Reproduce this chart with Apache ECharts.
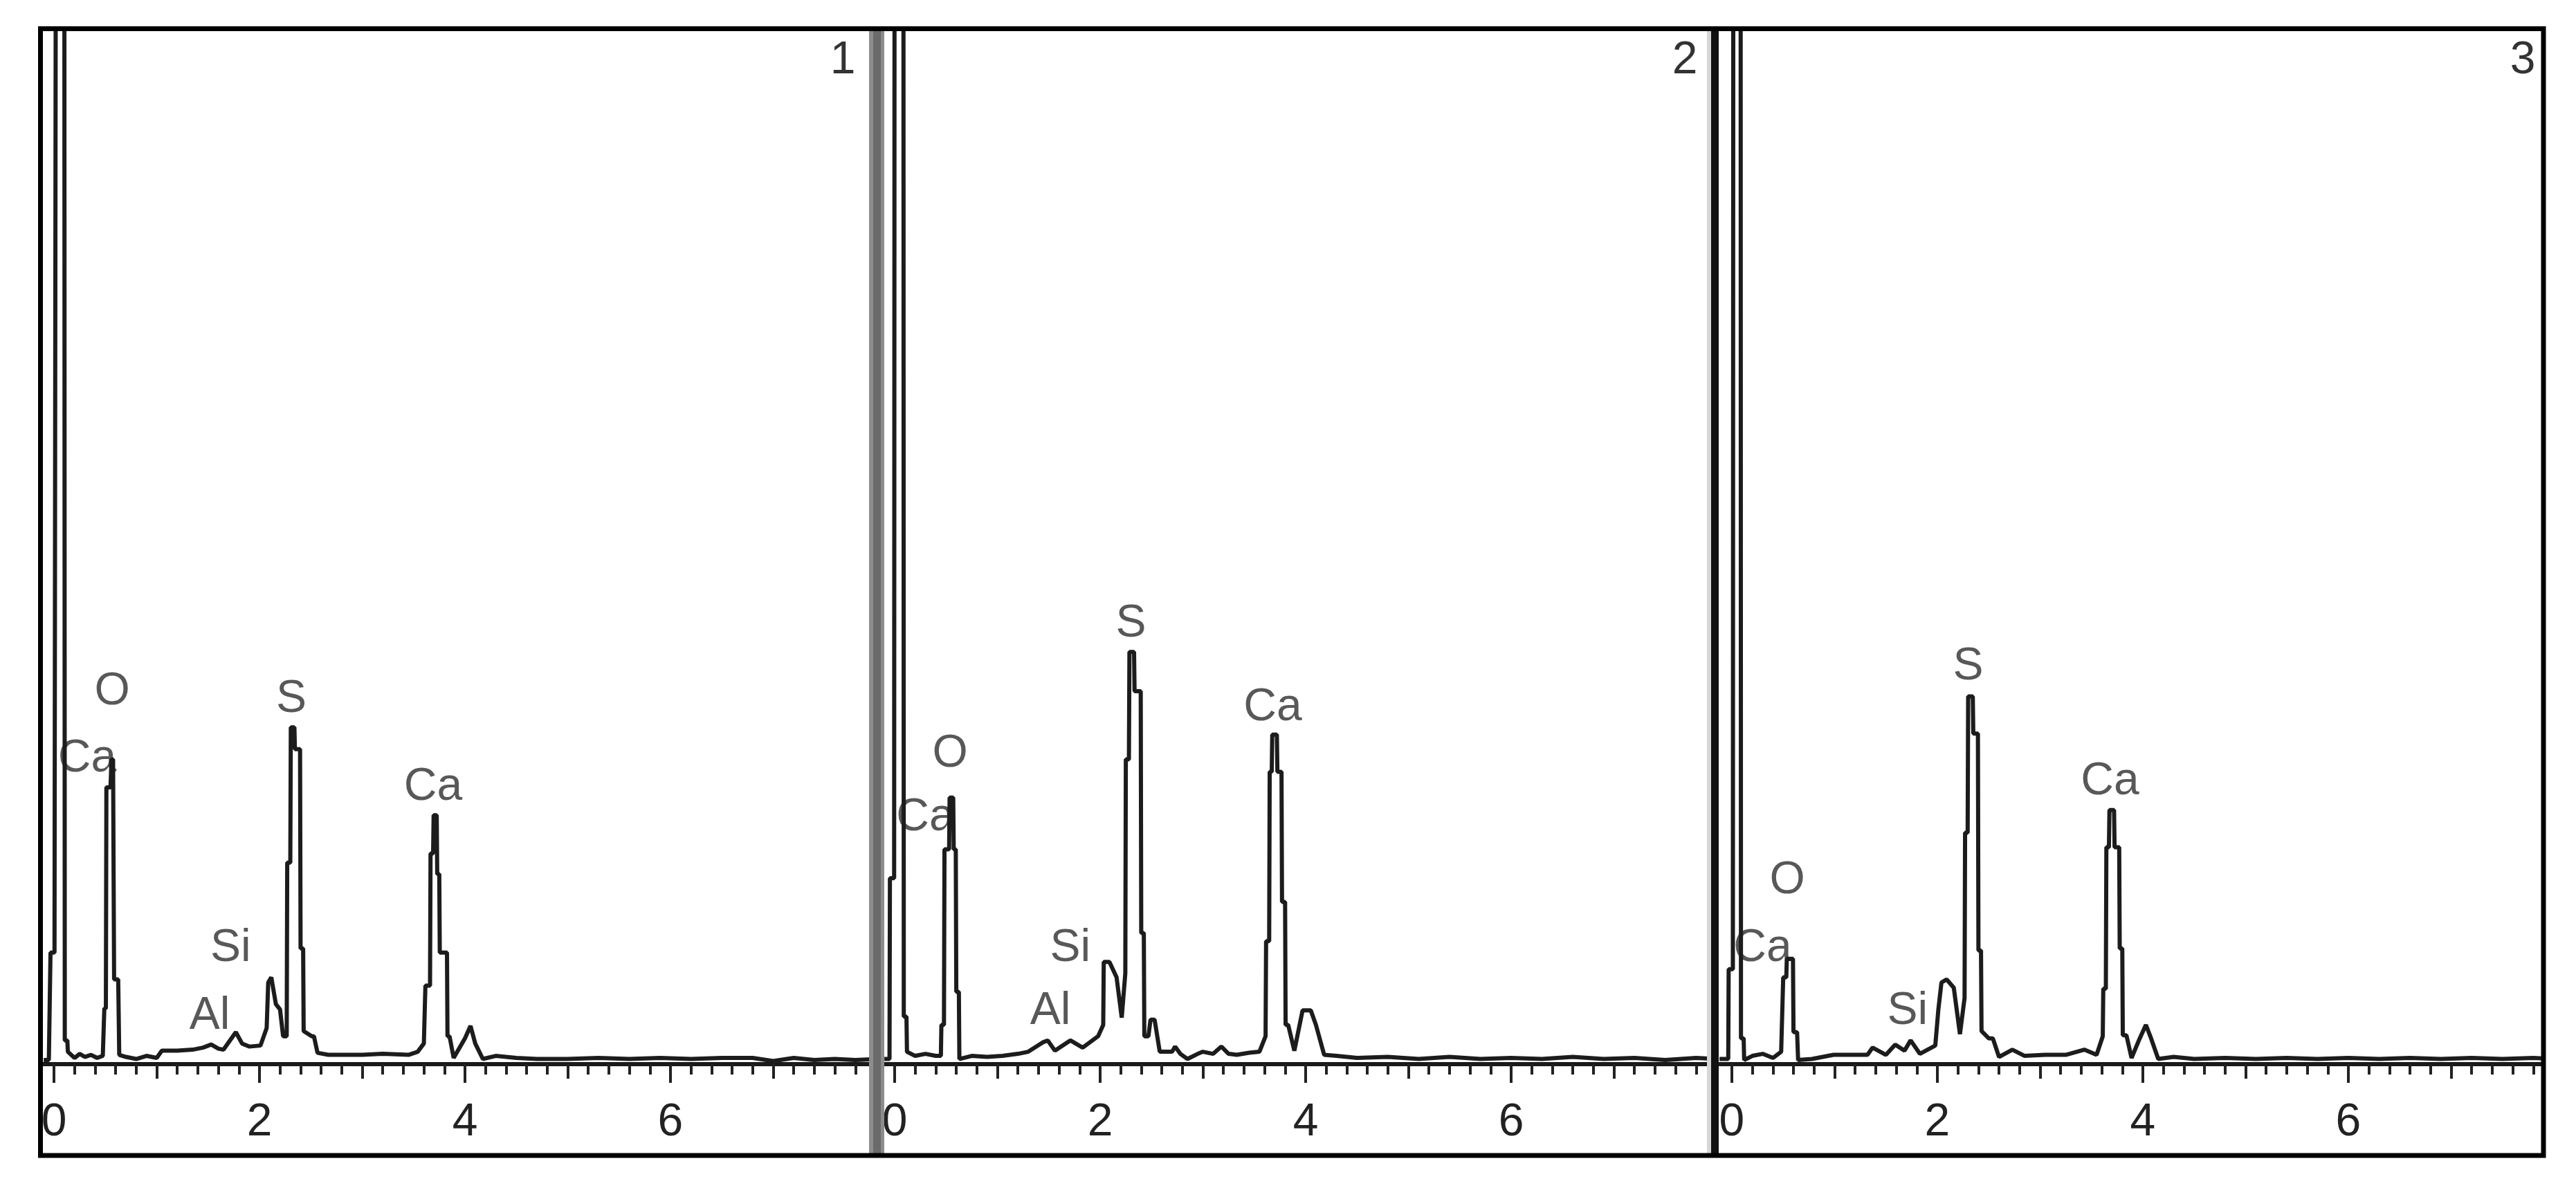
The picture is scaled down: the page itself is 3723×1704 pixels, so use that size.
<!DOCTYPE html>
<html><head><meta charset="utf-8">
<script src="https://cdn.jsdelivr.net/npm/echarts@6/dist/echarts.min.js"></script>
<style>html,body{margin:0;padding:0;background:#fff}#c{width:3723px;height:1704px}</style>
</head><body><div id="c"></div>
<script>
// ---- data: EDS spectra, [energy keV, counts (arbitrary, axis max 1000)] ----
const spectrum1 = [[-0.10,4],[-0.05,4],[-0.034,108],[0.005,108],[0.02,1300],[0.10,1300],[0.105,23],[0.13,23],[0.135,12],[0.20,6],[0.25,10],[0.30,7],[0.36,9],[0.42,6],[0.475,8],[0.49,54],[0.505,54],[0.51,268],[0.55,268],[0.56,295],[0.575,295],[0.585,82],[0.625,82],[0.635,9],[0.70,7],[0.80,5],[0.90,8],[1.00,6],[1.05,13],[1.20,13],[1.35,14],[1.45,16],[1.53,19],[1.60,15],[1.65,14],[1.77,31],[1.83,20],[1.90,17],[2.01,18],[2.07,35],[2.085,79],[2.115,84],[2.16,58],[2.20,53],[2.23,27],[2.265,27],[2.27,195],[2.30,195],[2.305,326],[2.34,326],[2.345,305],[2.395,305],[2.40,112],[2.425,112],[2.43,32],[2.51,27],[2.53,27],[2.565,11],[2.67,9],[3.00,9],[3.20,10],[3.45,9],[3.54,12],[3.60,20],[3.615,76],[3.66,76],[3.665,204],[3.69,204],[3.695,241],[3.725,241],[3.73,184],[3.75,184],[3.755,108],[3.825,108],[3.83,27],[3.85,27],[3.89,6],[4.00,25],[4.054,37],[4.10,20],[4.174,5],[4.30,8],[4.50,6],[4.70,5],[5.00,5],[5.30,6],[5.60,5],[5.90,6],[6.20,5],[6.50,6],[6.80,6],[7.00,3],[7.20,6],[7.40,4],[7.60,5],[7.80,4],[8.00,5]];
const spectrum2 = [[-0.10,5],[-0.05,5],[-0.046,180],[-0.005,180],[0.0,1300],[0.085,1300],[0.089,46],[0.115,46],[0.12,12],[0.20,8],[0.30,10],[0.40,8],[0.45,8],[0.455,38],[0.48,38],[0.485,208],[0.53,208],[0.535,258],[0.57,258],[0.575,208],[0.595,208],[0.60,70],[0.625,70],[0.63,5],[0.75,8],[0.90,7],[1.05,8],[1.20,10],[1.30,12],[1.44,21],[1.49,23],[1.56,13],[1.71,23],[1.83,16],[1.98,27],[2.03,38],[2.035,99],[2.09,99],[2.16,84],[2.21,45],[2.245,88],[2.25,295],[2.28,295],[2.285,399],[2.33,399],[2.335,361],[2.395,361],[2.40,127],[2.425,127],[2.43,27],[2.47,27],[2.49,43],[2.53,43],[2.58,12],[2.70,12],[2.73,17],[2.78,10],[2.85,5],[2.95,10],[3.00,12],[3.10,10],[3.18,17],[3.25,10],[3.33,9],[3.45,11],[3.55,12],[3.61,27],[3.615,119],[3.645,119],[3.65,283],[3.67,283],[3.675,319],[3.72,319],[3.725,283],[3.765,283],[3.77,157],[3.80,157],[3.805,38],[3.83,38],[3.89,13],[3.97,52],[4.05,52],[4.10,38],[4.18,9],[4.30,8],[4.50,6],[4.80,7],[5.10,5],[5.40,7],[5.70,5],[6.00,6],[6.30,5],[6.60,7],[6.90,5],[7.20,6],[7.50,4],[7.80,6],[8.00,5]];
const spectrum3 = [[-0.12,5],[-0.035,5],[-0.031,92],[0.01,92],[0.015,1300],[0.085,1300],[0.089,25],[0.115,25],[0.12,4],[0.20,8],[0.30,10],[0.40,6],[0.48,12],[0.50,84],[0.53,84],[0.535,102],[0.595,102],[0.60,31],[0.635,31],[0.645,4],[0.78,5],[0.99,9],[1.32,9],[1.37,16],[1.50,9],[1.59,19],[1.68,13],[1.74,23],[1.83,10],[1.98,18],[2.01,53],[2.04,79],[2.09,82],[2.16,74],[2.22,29],[2.265,64],[2.27,224],[2.295,224],[2.30,356],[2.345,356],[2.35,320],[2.395,320],[2.40,110],[2.425,110],[2.43,32],[2.50,25],[2.54,25],[2.60,7],[2.73,14],[2.85,8],[3.05,9],[3.25,9],[3.43,14],[3.55,9],[3.61,27],[3.615,73],[3.64,73],[3.645,210],[3.67,210],[3.675,246],[3.72,246],[3.725,210],[3.77,210],[3.775,112],[3.80,112],[3.805,28],[3.84,28],[3.89,6],[3.97,25],[4.03,38],[4.08,25],[4.15,5],[4.30,7],[4.50,5],[4.80,6],[5.10,5],[5.40,6],[5.70,5],[6.00,6],[6.30,5],[6.60,6],[6.90,5],[7.20,6],[7.50,5],[7.80,6],[8.00,5]];

// peak annotations: element, energy (keV), counts level of the label centre
const labelText1 = ['Ca','O','Al','Si','S','Ca'];
const labelEnergy1 = [0.323,0.566,1.515,1.72,2.31,3.69];
const labelLevel1 = [300,365,51,117,358,273];
const labelText2 = ['Ca','O','Al','Si','S','Ca'];
const labelEnergy2 = [0.30,0.54,1.515,1.71,2.30,3.68];
const labelLevel2 = [243,305,56,117,431,350];
const labelText3 = ['Ca','O','Si','S','Ca'];
const labelEnergy3 = [0.30,0.54,1.71,2.30,3.68];
const labelLevel3 = [117,182,56,389,278];

const panelNames = ['1','2','3'];
const tickLabels = [0,2,4,6];
const tickOdd = [1,3,5,7];
const tickMinor = [];
for (let i = 0; i < 40; i++) tickMinor.push(+(i*0.2).toFixed(1));

// ---- layout ----
const panels = [
  {left:62,   width:1194, min:-0.108, max:7.933, numX:1218},
  {left:1278, width:1195, min:-0.101, max:7.946, numX:2435},
  {left:2485, width:1188, min:-0.121, max:7.879, numX:3646}
];
const spectra = [spectrum1, spectrum2, spectrum3];
const labelSets = [[labelText1,labelEnergy1,labelLevel1],[labelText2,labelEnergy2,labelLevel2],[labelText3,labelEnergy3,labelLevel3]];
const FONT = "'Liberation Sans', Arial, sans-serif";
const TOP = 45, BASE = 1538;

const grids = [], xAxes = [], yAxes = [], series = [];
panels.forEach((p, i) => {
  grids.push({left:p.left, top:TOP, width:p.width, height:BASE-TOP});
  yAxes.push({gridIndex:i, type:'value', min:0, max:1000, show:false});
  const base = {gridIndex:i, type:'value', min:p.min, max:p.max, position:'bottom', splitLine:{show:false}, minorTick:{show:false}};
  xAxes.push(Object.assign({}, base, {
    axisLine:{show:true, onZero:false, lineStyle:{color:'#1a1a1a', width:6}},
    axisTick:{show:true, customValues:tickMinor, length:15, lineStyle:{color:'#222', width:4}},
    axisLabel:{show:true, customValues:tickLabels, margin:52, fontSize:66, color:'#222', fontFamily:FONT}
  }));
  xAxes.push(Object.assign({}, base, {
    axisLine:{show:false},
    axisTick:{show:true, customValues:tickOdd, length:21, lineStyle:{color:'#222', width:4}},
    axisLabel:{show:false}
  }));
  xAxes.push(Object.assign({}, base, {
    axisLine:{show:false},
    axisTick:{show:true, customValues:tickLabels, length:27, lineStyle:{color:'#222', width:4}},
    axisLabel:{show:false}
  }));
  series.push({
    type:'line', xAxisIndex:3*i, yAxisIndex:i, data:spectra[i],
    showSymbol:false, symbol:'none', clip:true, silent:true, z:3,
    lineStyle:{color:'#1c1c1c', width:6}
  });
  const [t, e, c] = labelSets[i];
  series.push({
    type:'scatter', xAxisIndex:3*i, yAxisIndex:i, symbolSize:0, silent:true, z:2,
    data: t.map((name,k) => ({name:name, value:[e[k], c[k]]})),
    label:{show:true, position:'inside', formatter:'{b}', align:'center', verticalAlign:'middle', offset:[0,7],
           fontSize:66, color:'#2e2e2e', fontFamily:FONT}
  });
});

const graphic = [
  {type:'rect', z:100, shape:{x:1256, y:45, width:22, height:1622}, style:{fill:'#8c8c8c'}},
  {type:'rect', z:101, shape:{x:1262, y:45, width:11, height:1622}, style:{fill:'#6a6a6a'}},
  {type:'rect', z:100, shape:{x:2467, y:45, width:6, height:1622}, style:{fill:'#d6d6d6'}},
  {type:'rect', z:101, shape:{x:2473, y:45, width:11, height:1622}, style:{fill:'#111'}},
  {type:'rect', z:110, shape:{x:58.5, y:41.5, width:3617.5, height:1628.5}, style:{fill:'none', stroke:'#000', lineWidth:7}}
];
panels.forEach((p, i) => {
  graphic.push({type:'text', z:50, x:p.numX, y:88,
    style:{text:panelNames[i], fontSize:66, fontFamily:FONT, fill:'#333', textAlign:'center', textVerticalAlign:'middle'}});
});

const chart = echarts.init(document.getElementById('c'), null, {renderer:'canvas'});
chart.setOption({
  animation:false, backgroundColor:'#fff',
  grid:grids, xAxis:xAxes, yAxis:yAxes, series:series, graphic:graphic
});
</script></body></html>
